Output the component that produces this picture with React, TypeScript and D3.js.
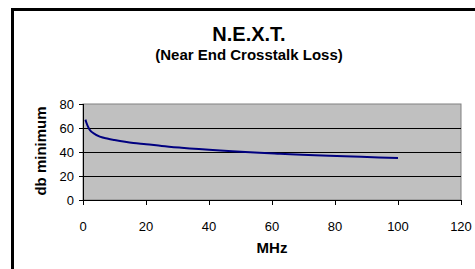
import React from "react";
import * as d3 from "d3";

const freqMHz = [0.772, 1, 2, 4, 8, 10, 16, 20, 25, 31.25, 62.5, 100];
const dbMin = [67, 65, 59, 54.5, 51, 50, 47.5, 46.5, 45, 43.5, 38.5, 35];
const xTicks = [0, 20, 40, 60, 80, 100, 120];
const yTicks = [0, 20, 40, 60, 80];

export default function App() {
  const W = 475, H = 269;
  const x = d3.scaleLinear().domain([0, 120]).range([83, 461]);
  const y = d3.scaleLinear().domain([0, 80]).range([200, 104]);
  const line = d3
    .line<number>()
    .x((_, i) => x(freqMHz[i]))
    .y((d) => y(d))
    .curve(d3.curveMonotoneX);
  const font = "Arial, 'Liberation Sans', sans-serif";
  return (
    <svg width={W} height={H} style={{ position: "fixed", left: 0, top: 0 }} fontFamily={font}>
      <rect x={0} y={0} width={W} height={H} fill="#fff" />
      <rect x={12.5} y={9.5} width={600} height={400} fill="#fff" stroke="#000" strokeWidth={3} />
      <text x={249} y={41} textAnchor="middle" fontSize={20} fontWeight="bold">N.E.X.T.</text>
      <text x={249} y={60} textAnchor="middle" fontSize={15} fontWeight="bold">(Near End Crosstalk Loss)</text>
      <rect x={x(0)} y={y(80)} width={x(120) - x(0)} height={y(0) - y(80)} fill="#c0c0c0" stroke="#808080" strokeWidth={1} />
      {yTicks.filter((t) => t > 0 && t < 80).map((t) => (
        <line key={t} x1={x(0)} x2={x(120)} y1={y(t) + 0.5} y2={y(t) + 0.5} stroke="#000" strokeWidth={1} />
      ))}
      <line x1={x(0) + 0.5} x2={x(0) + 0.5} y1={y(80)} y2={y(0) + 0.5} stroke="#000" />
      <line x1={x(0)} x2={x(120)} y1={y(0) + 0.5} y2={y(0) + 0.5} stroke="#000" />
      {yTicks.map((t) => (
        <g key={t}>
          <line x1={x(0) - 4} x2={x(0)} y1={y(t) + 0.5} y2={y(t) + 0.5} stroke="#000" />
          <text x={74} y={y(t) + 5} textAnchor="end" fontSize={13}>{t}</text>
        </g>
      ))}
      {xTicks.map((t) => (
        <g key={t}>
          <line x1={x(t) + 0.5} x2={x(t) + 0.5} y1={y(0)} y2={y(0) + 5} stroke="#000" />
          <text x={x(t)} y={231} textAnchor="middle" fontSize={13}>{t}</text>
        </g>
      ))}
      <path d={line(dbMin) || ""} fill="none" stroke="#000080" strokeWidth={2} />
      <text x={272} y={253} textAnchor="middle" fontSize={15} fontWeight="bold">MHz</text>
      <text transform={`translate(46,151) rotate(-90)`} textAnchor="middle" fontSize={15} fontWeight="bold">db minimum</text>
    </svg>
  );
}
